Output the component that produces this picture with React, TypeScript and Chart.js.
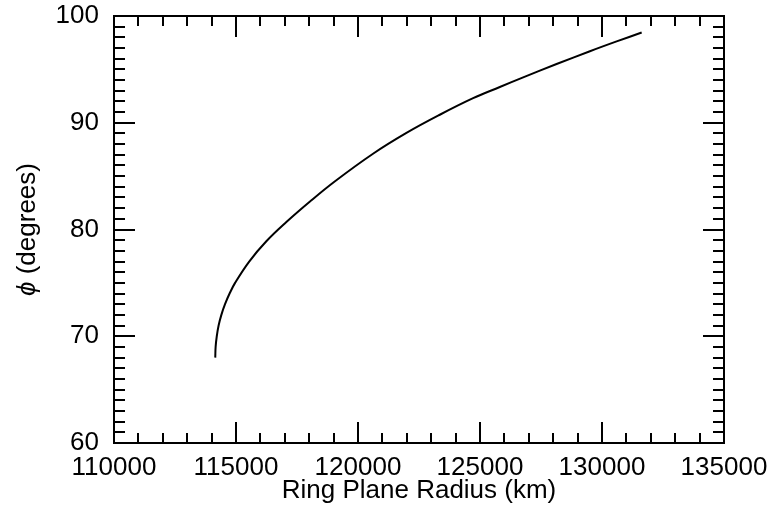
import React, { useEffect, useRef } from "react";
import { Chart, registerables } from "chart.js";

Chart.register(...registerables);

const radiusKm = [114150, 114165, 114212, 114287, 114400, 114550, 114737, 114962, 115541, 116243, 117064, 118020, 119045, 120616, 121986, 123352, 124718, 125813, 126769, 128139, 129505, 130600, 131626];
const phiDeg = [68.0, 69.0, 70.0, 71.0, 72.0, 73.0, 74.0, 75.0, 77.0, 78.9, 80.7, 82.6, 84.5, 87.1, 89.05, 90.75, 92.3, 93.35, 94.25, 95.5, 96.7, 97.62, 98.45];

const X_MIN = 110000;
const X_MAX = 135000;
const X_MAJOR = 5000;
const X_MINOR = 1000;
const Y_MIN = 60;
const Y_MAX = 100;
const Y_MAJOR = 10;
const Y_MINOR = 1;

const X_TITLE = "Ring Plane Radius (km)";
const Y_TITLE_SYMBOL = "\u03D5";
const Y_TITLE_REST = " (degrees)";

const FONT = "'Liberation Sans', Arial, Helvetica, sans-serif";
const FS = 26;

const framePlugin = {
  id: "frameTicks",
  afterDatasetsDraw(chart: any) {
    const { ctx, chartArea } = chart;
    const { left, right, top, bottom } = chartArea;
    const xs = chart.scales.x;
    const ys = chart.scales.y;
    ctx.save();
    ctx.strokeStyle = "#000";
    ctx.lineWidth = 2;
    ctx.lineCap = "butt";
    ctx.strokeRect(left, top, right - left, bottom - top);
    ctx.beginPath();
    for (let v = X_MIN; v <= X_MAX + 1e-6; v += X_MINOR) {
      const px = Math.round(xs.getPixelForValue(v));
      const major = Math.abs(v / X_MAJOR - Math.round(v / X_MAJOR)) < 1e-6;
      const len = major ? 21 : 10;
      ctx.moveTo(px, bottom);
      ctx.lineTo(px, bottom - len);
      ctx.moveTo(px, top);
      ctx.lineTo(px, top + len);
    }
    for (let v = Y_MIN; v <= Y_MAX + 1e-6; v += Y_MINOR) {
      const py = Math.round(ys.getPixelForValue(v));
      const major = Math.abs(v / Y_MAJOR - Math.round(v / Y_MAJOR)) < 1e-6;
      const len = major ? 21 : 11;
      ctx.moveTo(left, py);
      ctx.lineTo(left + len, py);
      ctx.moveTo(right, py);
      ctx.lineTo(right - len, py);
    }
    ctx.stroke();

    ctx.fillStyle = "#000";
    ctx.font = `${FS}px ${FONT}`;
    ctx.textAlign = "center";
    ctx.textBaseline = "middle";
    ctx.fillText(X_TITLE, (left + right) / 2, 491);

    ctx.translate(28, (top + bottom) / 2);
    ctx.rotate(-Math.PI / 2);
    ctx.font = `italic ${FS}px ${FONT}`;
    const w1 = ctx.measureText(Y_TITLE_SYMBOL).width;
    ctx.font = `${FS}px ${FONT}`;
    const w2 = ctx.measureText(Y_TITLE_REST).width;
    const start = -(w1 + w2) / 2;
    ctx.textAlign = "left";
    ctx.font = `italic ${FS}px ${FONT}`;
    ctx.fillText(Y_TITLE_SYMBOL, start, 0);
    ctx.font = `${FS}px ${FONT}`;
    ctx.fillText(Y_TITLE_REST, start + w1, 0);
    ctx.restore();
  },
};

export default function App() {
  const ref = useRef<HTMLCanvasElement | null>(null);
  useEffect(() => {
    document.body.style.margin = "0";
    const canvas = ref.current;
    if (!canvas) return;
    const points = radiusKm.map((x, i) => ({ x, y: phiDeg[i] }));
    const chart = new Chart(canvas, {
      type: "line",
      data: {
        datasets: [
          {
            data: points,
            borderColor: "#000",
            borderWidth: 2,
            pointRadius: 0,
            fill: false,
            tension: 0.4,
          },
        ],
      },
      options: {
        responsive: false,
        animation: false,
        maintainAspectRatio: false,
        layout: { padding: { top: 16, right: 56, left: 0, bottom: 0 } },
        plugins: { legend: { display: false }, tooltip: { enabled: false } },
        scales: {
          x: {
            type: "linear",
            min: X_MIN,
            max: X_MAX,
            grid: { display: false, drawTicks: false },
            border: { display: false },
            ticks: {
              stepSize: X_MAJOR,
              color: "#000",
              padding: 9,
              maxRotation: 0,
              autoSkip: false,
              font: { family: FONT, size: FS },
              callback: (v: any) => String(v),
            },
            afterFit: (s: any) => {
              s.height = 66;
              s.paddingLeft = 0;
              s.paddingRight = 0;
            },
          },
          y: {
            type: "linear",
            min: Y_MIN,
            max: Y_MAX,
            grid: { display: false, drawTicks: false },
            border: { display: false },
            ticks: {
              stepSize: Y_MAJOR,
              color: "#000",
              padding: 15,
              font: { family: FONT, size: FS },
              callback: (v: any) => String(v),
            },
            afterFit: (s: any) => {
              s.width = 114;
              s.paddingTop = 0;
              s.paddingBottom = 0;
            },
          },
        },
      },
      plugins: [framePlugin],
    });
    return () => chart.destroy();
  }, []);
  return (
    <div style={{ width: 780, height: 509 }}>
      <canvas ref={ref} width={780} height={509} style={{ display: "block" }} />
    </div>
  );
}
